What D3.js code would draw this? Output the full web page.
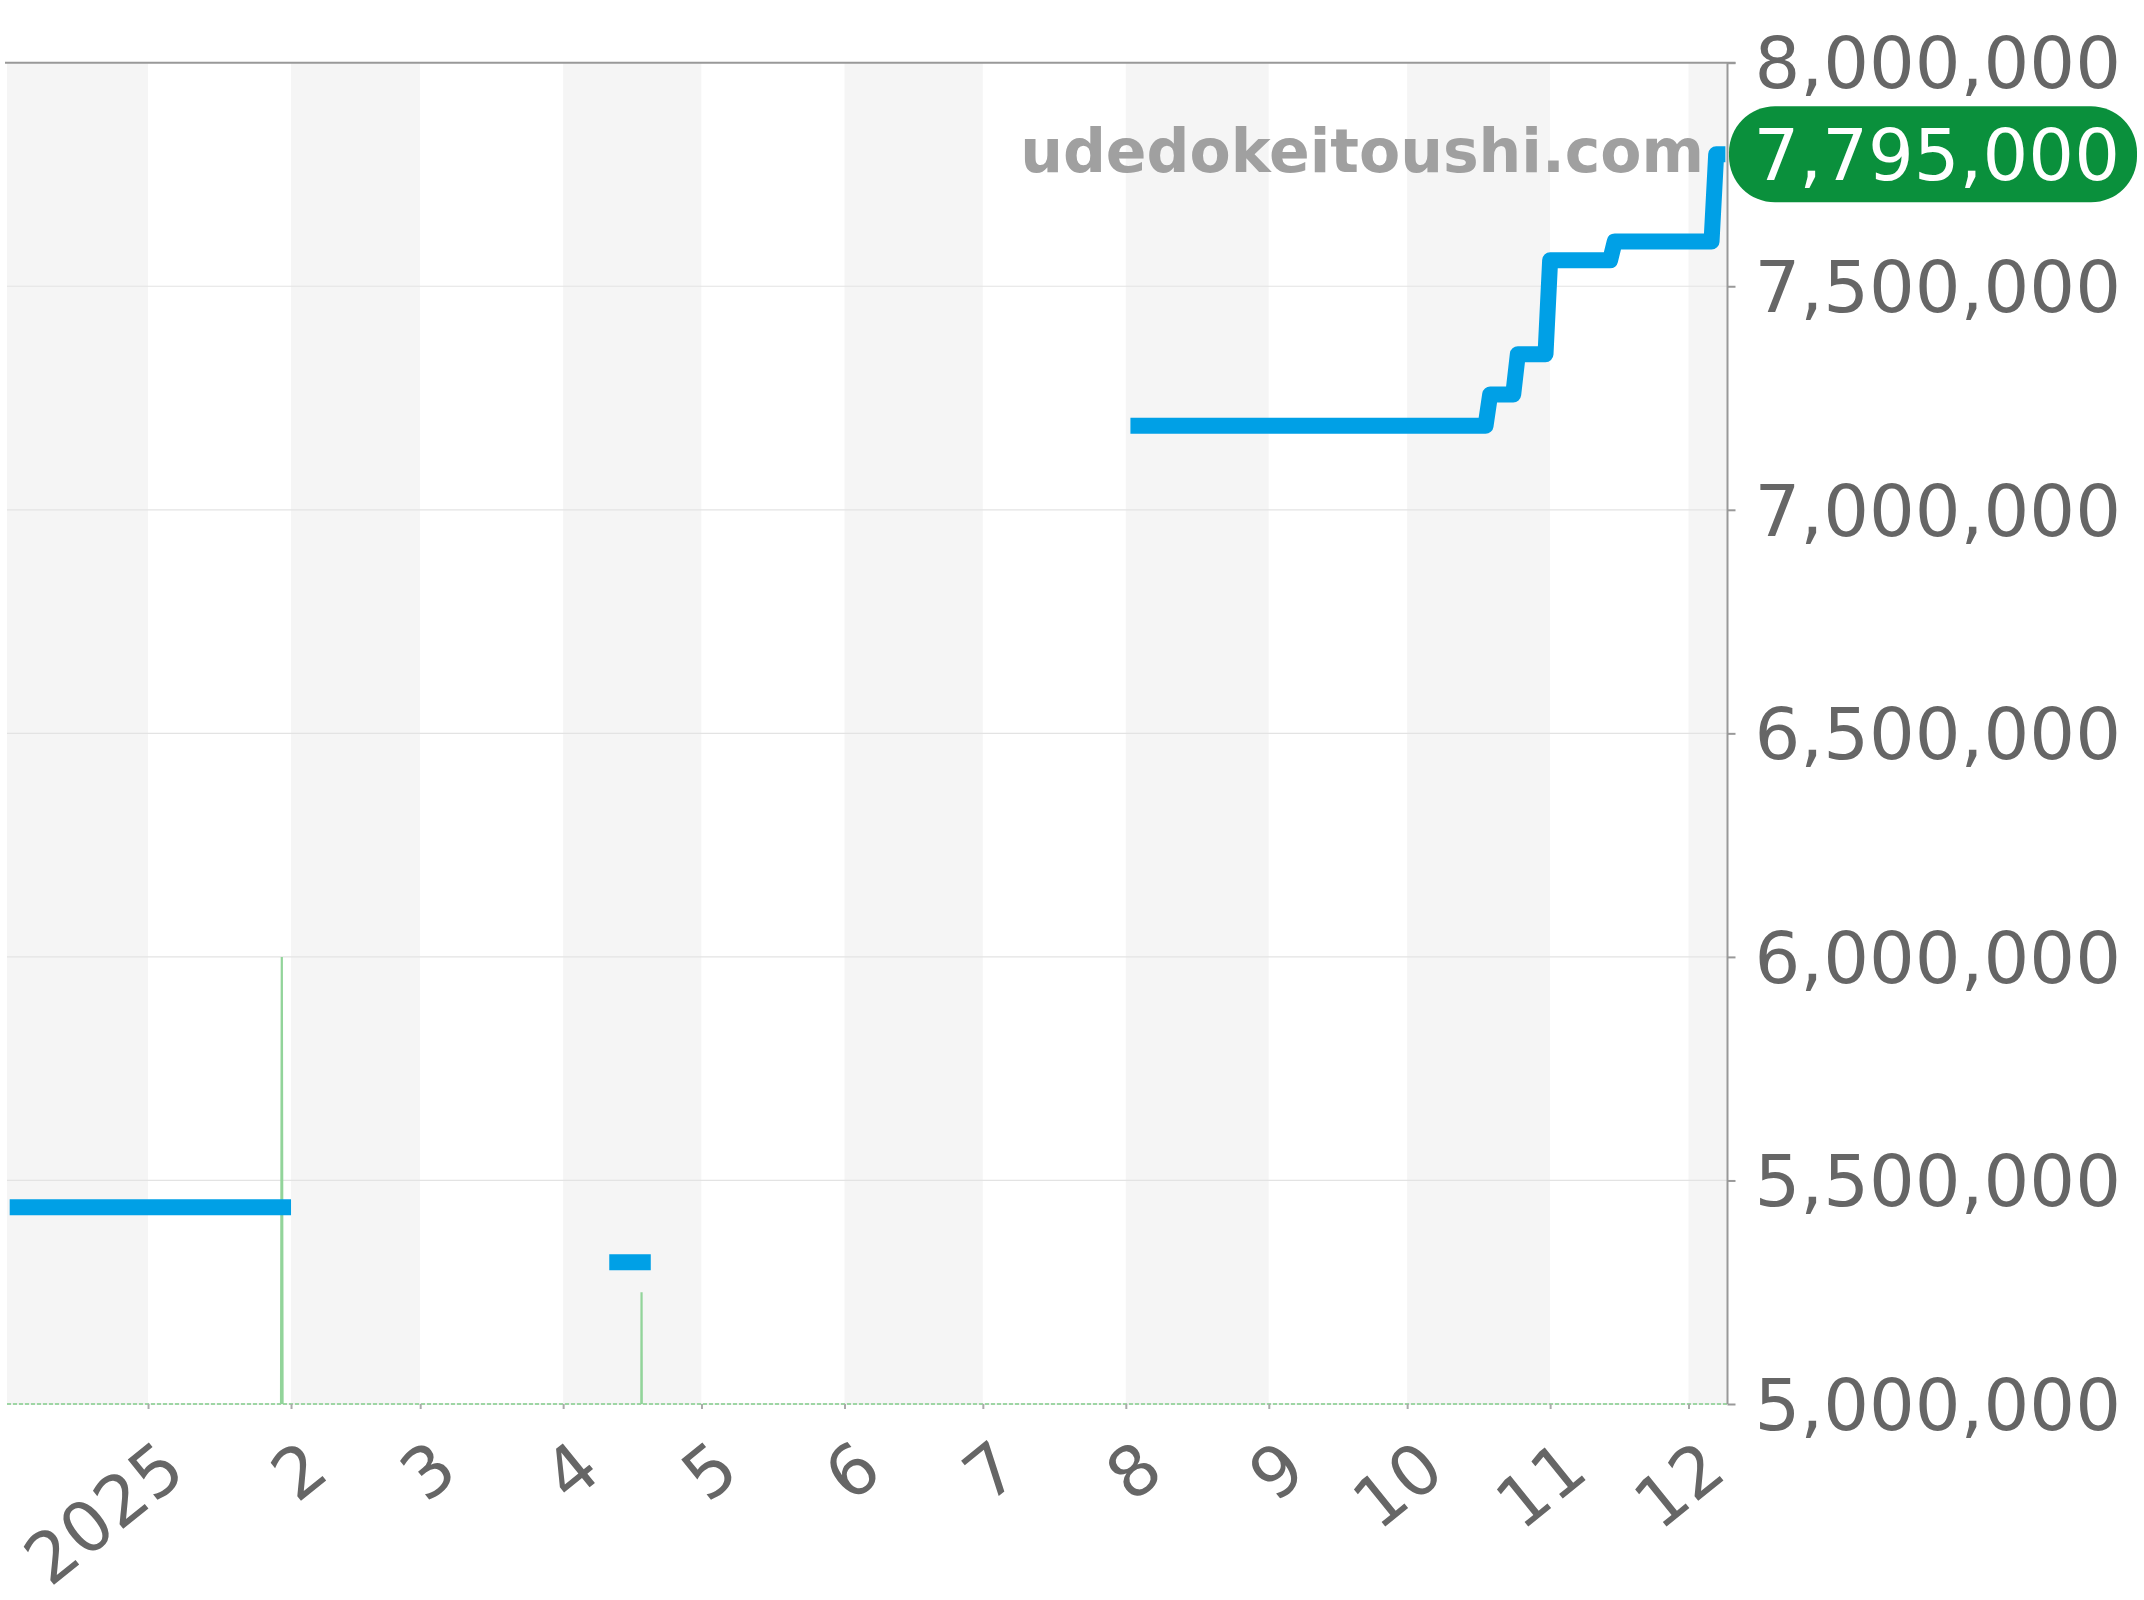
<!DOCTYPE html>
<html><head><meta charset="utf-8">
<script src="https://cdn.jsdelivr.net/npm/d3@7"></script>
<style>body{margin:0;background:#fff}svg{display:block}text{font-family:"DejaVu Sans",sans-serif}</style>
</head><body>
<svg id="chart" width="2144" height="1600"></svg>
<script>
// ---- data ----
const priceDates = ["2024-12-02","2025-02-01",null,
  "2025-04-11","2025-04-20",null,
  "2025-08-02","2025-10-18","2025-10-19","2025-10-24","2025-10-25","2025-10-31",
  "2025-11-01","2025-11-14","2025-11-15","2025-12-06","2025-12-07","2025-12-09"];
const priceValues = [5440000,5440000,null,
  5317000,5317000,null,
  7188000,7188000,7258000,7258000,7348000,7348000,
  7558000,7558000,7600000,7600000,7795000,7795000];
const spikeDates = ["2025-01-29","2025-01-30","2025-01-31","2025-04-17","2025-04-18","2025-04-19"];
const spikeValues = [0,6000000,0,0,5250000,0];
const yTickValues = [5000000,5500000,6000000,6500000,7000000,7500000,8000000];
const monthLabels = ["2025","2","3","4","5","6","7","8","9","10","11","12"];
const watermark = "udedokeitoushi.com";

// ---- layout ----
const svg = d3.select("#chart");
const pL = 7, pR = 1727.5, pT = 62.7, pB = 1404;
const parse = d3.utcParse("%Y-%m-%d");
const x = d3.scaleUtc()
  .domain([new Date(Date.UTC(2024,11,1,10)), new Date(Date.UTC(2025,11,9,11))])
  .range([pL, pR]);
const y = d3.scaleLinear().domain([5000000, 8000000]).range([pB, pT]);

// month bands
const months = d3.utcMonth.range(d3.utcMonth.floor(x.domain()[0]), x.domain()[1]);
svg.append("g").selectAll("rect").data(months).join("rect")
  .attr("x", d => Math.max(pL, x(d)))
  .attr("y", pT)
  .attr("width", d => Math.min(pR, x(d3.utcMonth.offset(d,1))) - Math.max(pL, x(d)))
  .attr("height", pB - pT)
  .attr("fill", (d,i) => i % 2 === 0 ? "#f5f5f5" : "#ffffff");

// horizontal grid
svg.append("g").selectAll("line").data(yTickValues.slice(0,-1)).join("line")
  .attr("x1", pL).attr("x2", pR)
  .attr("y1", d => y(d)).attr("y2", d => y(d))
  .attr("stroke", "#e3e3e3").attr("stroke-width", 1.2);
// top border
svg.append("line").attr("x1", pL - 2).attr("x2", pR + 8)
  .attr("y1", y(8000000)).attr("y2", y(8000000))
  .attr("stroke", "#999").attr("stroke-width", 2);

// clip
svg.append("clipPath").attr("id","clip").append("rect")
  .attr("x", pL).attr("y", pT).attr("width", pR-pL).attr("height", pB-pT);

// baseline dashed green
svg.append("line").attr("x1", pL).attr("x2", pR)
  .attr("y1", y(5000000)).attr("y2", y(5000000))
  .attr("stroke", "#9ed6a4").attr("stroke-width", 2).attr("stroke-dasharray","4,2");

// green spikes
const spikeData = spikeDates.map((d,i) => ({date: parse(d), value: spikeValues[i]}));
svg.append("path").datum(spikeData)
  .attr("clip-path","url(#clip)")
  .attr("fill","none").attr("stroke","#92d49a").attr("stroke-width",2.2)
  .attr("d", d3.line().x(d => x(d.date)).y(d => y(d.value)));

// x axis
const xTicks = d3.utcMonth.range(new Date(Date.UTC(2025,0,1)), new Date(Date.UTC(2025,11,2)));
const xAxis = svg.append("g").attr("transform", `translate(0,${pB})`)
  .call(d3.axisBottom(x).tickValues(xTicks).tickSize(5).tickFormat((d,i) => monthLabels[i]));
xAxis.select(".domain").remove();
xAxis.selectAll(".tick line").attr("stroke","#aaa").attr("stroke-width",2);
xAxis.selectAll(".tick text")
  .attr("fill","#666").attr("font-size",70)
  .attr("text-anchor","end").attr("y",0).attr("dy",0)
  .attr("transform","translate(40,72) rotate(-39)");

// price line
const priceData = priceDates.map((d,i) => ({date: d ? parse(d) : null, value: priceValues[i]}));
svg.append("path").datum(priceData)
  .attr("clip-path","url(#clip)")
  .attr("fill","none").attr("stroke","#00a0e6").attr("stroke-width",16)
  .attr("stroke-linejoin","round").attr("stroke-linecap","butt")
  .attr("d", d3.line().defined(d => d.value !== null).x(d => x(d.date)).y(d => y(d.value)));

// y axis on right
const yAxis = svg.append("g").attr("transform", `translate(${pR},0)`)
  .call(d3.axisRight(y).tickValues(yTickValues).tickSize(8).tickPadding(19).tickFormat(d3.format(",")));
yAxis.select(".domain").attr("stroke","#999").attr("stroke-width",2)
  .attr("d", `M0,${pT}V${pB}`);
yAxis.selectAll(".tick line").attr("stroke","#999").attr("stroke-width",2);
yAxis.selectAll(".tick text").attr("fill","#666").attr("font-size",72).attr("dy","0.35em");

// watermark
svg.append("text").attr("x", 1704).attr("y", 171.5)
  .attr("text-anchor","end").attr("font-size",60).attr("font-weight","bold")
  .attr("fill","#a0a0a0").text(watermark);

// last value badge
const lastValue = priceValues[priceValues.length-1];
const badge = svg.append("g");
badge.append("rect").attr("x", pR + 1.5).attr("y", y(lastValue) - 48)
  .attr("width", 408).attr("height", 96).attr("rx", 46).attr("ry", 46)
  .attr("fill", "#0a903c");
badge.append("text").attr("x", pR + 26).attr("y", y(lastValue)).attr("dy","0.35em")
  .attr("fill","#fff").attr("font-size",72).text(d3.format(",")(lastValue));
</script>
</body></html>
